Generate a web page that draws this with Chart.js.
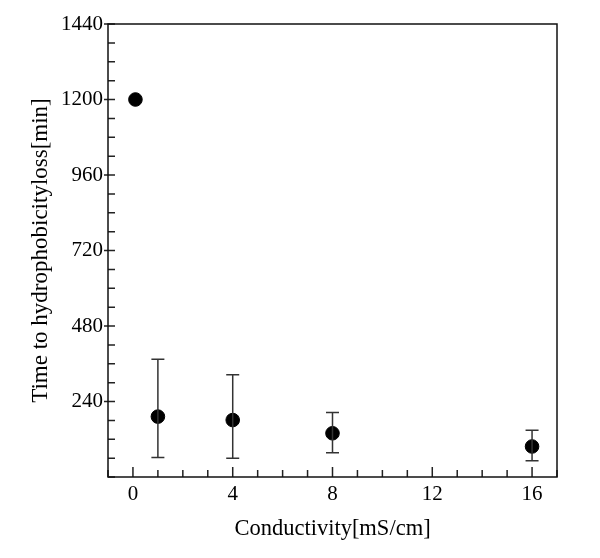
<!DOCTYPE html>
<html>
<head>
<meta charset="utf-8">
<script src="https://cdn.jsdelivr.net/npm/chart.js@4"></script>
<style>
  html, body { margin: 0; padding: 0; background: #fff; }
</style>
</head>
<body>
<canvas id="chart" width="600" height="558"></canvas>
<script>
// conductivity (mS/cm) and time to hydrophobicity loss (min)
const conductivity = [0.1, 1, 4, 8, 16];
const lossTime = [1200, 192, 181, 139, 97];
const errHigh = [null, 374, 325, 205, 149];
const errLow = [null, 62, 60, 77, 52];
const xLabelTicks = [0, 4, 8, 12, 16];
const yLabelTicks = [240, 480, 720, 960, 1200, 1440];

const serif = '"Liberation Serif", "Times New Roman", serif';

// box round the plot, inward ticks and error bars
const framePlugin = {
    id: 'frame',
    afterDatasetsDraw(chart) {
        const ctx = chart.ctx;
        const area = chart.chartArea;
        const xs = chart.scales.x;
        const ys = chart.scales.y;
        ctx.save();

        // error bars
        ctx.strokeStyle = '#333';
        ctx.lineWidth = 1.5;
        for (let i = 0; i < conductivity.length; i++) {
            if (errHigh[i] == null) continue;
            const px = xs.getPixelForValue(conductivity[i]);
            const top = ys.getPixelForValue(errHigh[i]);
            const bot = ys.getPixelForValue(errLow[i]);
            ctx.beginPath();
            ctx.moveTo(px, top); ctx.lineTo(px, bot);
            ctx.moveTo(px - 6.5, top); ctx.lineTo(px + 6.5, top);
            ctx.moveTo(px - 6.5, bot); ctx.lineTo(px + 6.5, bot);
            ctx.stroke();
        }

        // ticks
        ctx.strokeStyle = '#222';
        ctx.lineWidth = 1.5;
        ctx.beginPath();
        xs.ticks.forEach(t => {
            const px = xs.getPixelForValue(t.value);
            const len = xLabelTicks.includes(t.value) ? 10 : 7;
            ctx.moveTo(px, area.bottom);
            ctx.lineTo(px, area.bottom - len);
        });
        ys.ticks.forEach(t => {
            const py = ys.getPixelForValue(t.value);
            if (yLabelTicks.includes(t.value)) {
                ctx.moveTo(area.left - 4, py);
            } else {
                ctx.moveTo(area.left, py);
            }
            ctx.lineTo(area.left + 7, py);
        });
        ctx.stroke();

        // frame
        ctx.strokeStyle = '#111';
        ctx.lineWidth = 1.5;
        ctx.strokeRect(area.left, area.top, area.right - area.left, area.bottom - area.top);
        ctx.restore();
    }
};

const ctx = document.getElementById('chart').getContext('2d');
const chart = new Chart(ctx, {
    type: 'scatter',
    data: {
        datasets: [{
            data: conductivity.map((c, i) => ({ x: c, y: lossTime[i] })),
            backgroundColor: '#000',
            borderColor: '#000',
            pointRadius: 6.8,
            showLine: false
        }]
    },
    options: {
        responsive: false,
        animation: false,
        layout: { padding: { top: 24, right: 43, left: 0, bottom: 0 } },
        plugins: {
            legend: { display: false },
            tooltip: { enabled: false }
        },
        scales: {
            x: {
                type: 'linear',
                min: -1,
                max: 17,
                grid: { display: false, drawTicks: false },
                border: { display: false },
                ticks: {
                    stepSize: 1,
                    autoSkip: false,
                    maxRotation: 0,
                    padding: 5,
                    color: '#000',
                    font: { family: serif, size: 21 },
                    callback: v => xLabelTicks.includes(v) ? String(v) : ''
                },
                title: {
                    display: true,
                    text: 'Conductivity[mS/cm]',
                    color: '#000',
                    font: { family: serif, size: 22.5 },
                    padding: { top: 0, bottom: 15 }
                },
                afterFit(scale) { scale.height = 81; }
            },
            y: {
                type: 'linear',
                min: 0,
                max: 1440,
                grid: { display: false, drawTicks: false },
                border: { display: false },
                ticks: {
                    stepSize: 60,
                    autoSkip: false,
                    padding: 5,
                    color: '#000',
                    font: { family: serif, size: 21 },
                    callback: v => yLabelTicks.includes(v) ? String(v) : ''
                },
                title: {
                    display: true,
                    text: 'Time to hydrophobicityloss[min]',
                    color: '#000',
                    font: { family: serif, size: 23 },
                    padding: { top: 27, bottom: 0 }
                },
                afterFit(scale) { scale.width = 108; }
            }
        }
    },
    plugins: [framePlugin]
});
</script>
</body>
</html>
